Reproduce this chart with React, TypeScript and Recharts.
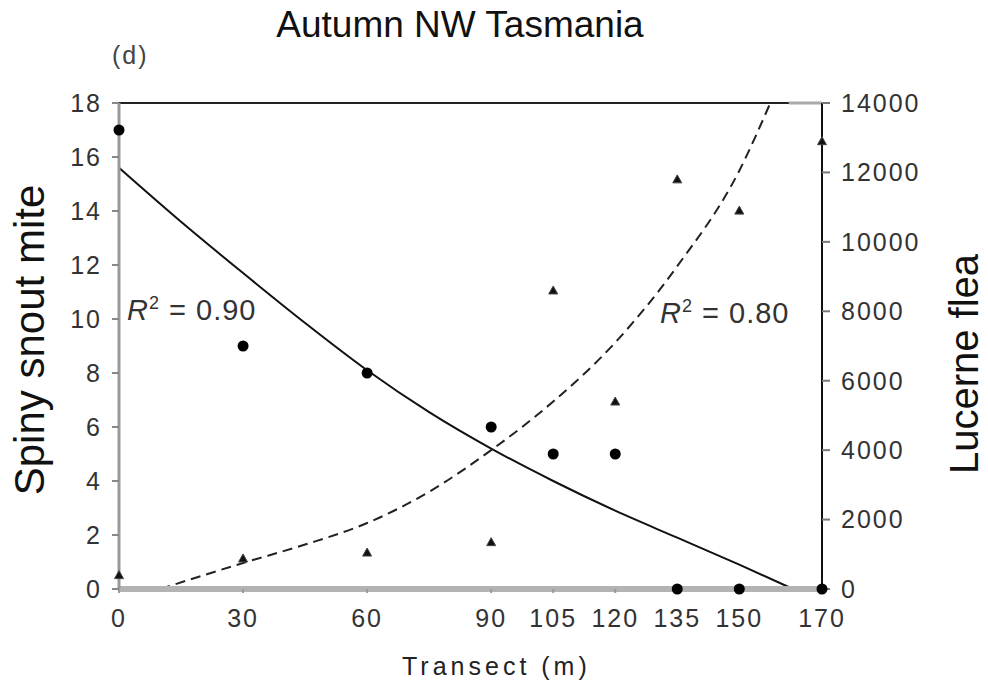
import React from 'react';
import { ComposedChart, XAxis, YAxis, Line, Scatter, ReferenceLine } from 'recharts';

// Observed points
const transect = [0, 30, 60, 90, 105, 120, 135, 150, 170];
const spinySnoutMite = [17, 9, 8, 6, 5, 5, 0, 0, 0];
const lucerneFlea = [400, 880, 1050, 1350, 8600, 5400, 11800, 10900, 12900];

// Fitted curves
const miteFitX = [0, 15, 30, 45, 60, 75, 90, 105, 120, 135, 150, 163];
const miteFitY = [15.6, 13.6, 11.7, 9.85, 8.1, 6.55, 5.2, 4.0, 2.9, 1.9, 0.9, 0];
const fleaFitX = [10, 30, 45, 60, 75, 90, 105, 120, 135, 150, 157.5];
const fleaFitY = [0, 750, 1280, 1900, 2800, 4000, 5400, 7100, 9300, 12050, 14000];

// Axis ticks
const xTicks = [0, 30, 60, 90, 105, 120, 135, 150, 170];
const leftTicks = [0, 2, 4, 6, 8, 10, 12, 14, 16, 18];
const rightTicks = [0, 2000, 4000, 6000, 8000, 10000, 12000, 14000];

const miteData = transect.map((x, i) => ({ x, y: spinySnoutMite[i] }));
const fleaData = transect.map((x, i) => ({ x, y: lucerneFlea[i] }));
const miteFit = miteFitX.map((x, i) => ({ x, y: miteFitY[i] }));
const fleaFit = fleaFitX.map((x, i) => ({ x, y: fleaFitY[i] }));

const FONT = '"Liberation Sans", Arial, Helvetica, sans-serif';
const tickStyle = { fill: '#333', fontSize: 25, fontFamily: FONT, letterSpacing: 2 };

const Triangle = (props: any) => {
  const { cx, cy } = props;
  if (cx == null || cy == null) return null;
  return <polygon points={`${cx - 4.5},${cy + 3.5} ${cx + 4.5},${cy + 3.5} ${cx},${cy - 4.5}`} fill="#111" stroke="#444" strokeWidth={1} />;
};

const Dot = (props: any) => {
  const { cx, cy } = props;
  if (cx == null || cy == null) return null;
  return <circle cx={cx} cy={cy} r={5.5} fill="#000" />;
};

export default function App() {
  return (
    <div style={{ position: 'absolute', left: 0, top: 0, width: 988, height: 684, background: '#fff' }}>
      <ComposedChart width={988} height={684} margin={{ top: 103, right: 0, bottom: 0, left: 0 }}>
        <XAxis
          xAxisId="x"
          type="number"
          dataKey="x"
          domain={[0, 170]}
          ticks={xTicks}
          height={95}
          axisLine={{ stroke: '#b3b3b3', strokeWidth: 6 }}
          tickLine={{ stroke: '#999', strokeWidth: 2 }}
          tickSize={4}
          tickMargin={16}
          tick={tickStyle}
          interval={0}
        />
        <YAxis
          yAxisId="left"
          type="number"
          domain={[0, 18]}
          ticks={leftTicks}
          width={119}
          axisLine={{ stroke: '#999', strokeWidth: 3 }}
          tickLine={{ stroke: '#888', strokeWidth: 2 }}
          tickSize={7}
          tickMargin={10}
          tick={tickStyle}
          interval={0}
        />
        <YAxis
          yAxisId="right"
          orientation="right"
          type="number"
          domain={[0, 14000]}
          ticks={rightTicks}
          width={166}
          axisLine={{ stroke: '#111', strokeWidth: 2 }}
          tickLine={{ stroke: '#777', strokeWidth: 2 }}
          tickSize={8}
          tickMargin={11}
          tick={tickStyle}
          interval={0}
        />
        <ReferenceLine
          xAxisId="x"
          yAxisId="left"
          segment={[{ x: 0, y: 18 }, { x: 162, y: 18 }]}
          stroke="#222"
          strokeWidth={2}
        />
        <ReferenceLine
          xAxisId="x"
          yAxisId="left"
          segment={[{ x: 162, y: 18 }, { x: 170, y: 18 }]}
          stroke="#aaa"
          strokeWidth={3}
        />
        <Line
          xAxisId="x"
          yAxisId="left"
          data={miteFit}
          dataKey="y"
          type="monotone"
          stroke="#111"
          strokeWidth={2}
          dot={false}
          activeDot={false}
          isAnimationActive={false}
        />
        <Line
          xAxisId="x"
          yAxisId="right"
          data={fleaFit}
          dataKey="y"
          type="monotone"
          stroke="#222"
          strokeWidth={2}
          strokeDasharray="10 6"
          dot={false}
          activeDot={false}
          isAnimationActive={false}
        />
        <Scatter
          xAxisId="x"
          yAxisId="left"
          data={miteData}
          dataKey="y"
          shape={<Dot />}
          isAnimationActive={false}
        />
        <Scatter
          xAxisId="x"
          yAxisId="right"
          data={fleaData}
          dataKey="y"
          shape={<Triangle />}
          isAnimationActive={false}
        />
      </ComposedChart>
      <svg width={988} height={684} style={{ position: 'absolute', left: 0, top: 0, pointerEvents: 'none' }}>
        <text x={460} y={37} textAnchor="middle" fontSize={37} fontFamily={FONT} fill="#111">
          Autumn NW Tasmania
        </text>
        <text x={112} y={64} fontSize={25} fontFamily={FONT} fill="#444" letterSpacing={2}>
          (d)
        </text>
        <text x={0} y={0} transform="translate(44,340) rotate(-90)" textAnchor="middle" fontSize={42} fontFamily={FONT} fill="#111">
          Spiny snout mite
        </text>
        <text x={0} y={0} transform="translate(978,364) rotate(-90)" textAnchor="middle" fontSize={40} fontFamily={FONT} fill="#111">
          Lucerne flea
        </text>
        <text x={402} y={675} fontSize={25} fontFamily={FONT} fill="#222" letterSpacing={4}>
          Transect (m)
        </text>
        <text x={127} y={320} fontSize={29} fontFamily={FONT} fill="#333" letterSpacing={1}>
          <tspan fontStyle="italic">R</tspan>
          <tspan dy={-11} fontSize={18}>2</tspan>
          <tspan dy={11}> = 0.90</tspan>
        </text>
        <text x={660} y={323} fontSize={29} fontFamily={FONT} fill="#333" letterSpacing={1}>
          <tspan fontStyle="italic">R</tspan>
          <tspan dy={-11} fontSize={18}>2</tspan>
          <tspan dy={11}> = 0.80</tspan>
        </text>
      </svg>
    </div>
  );
}
